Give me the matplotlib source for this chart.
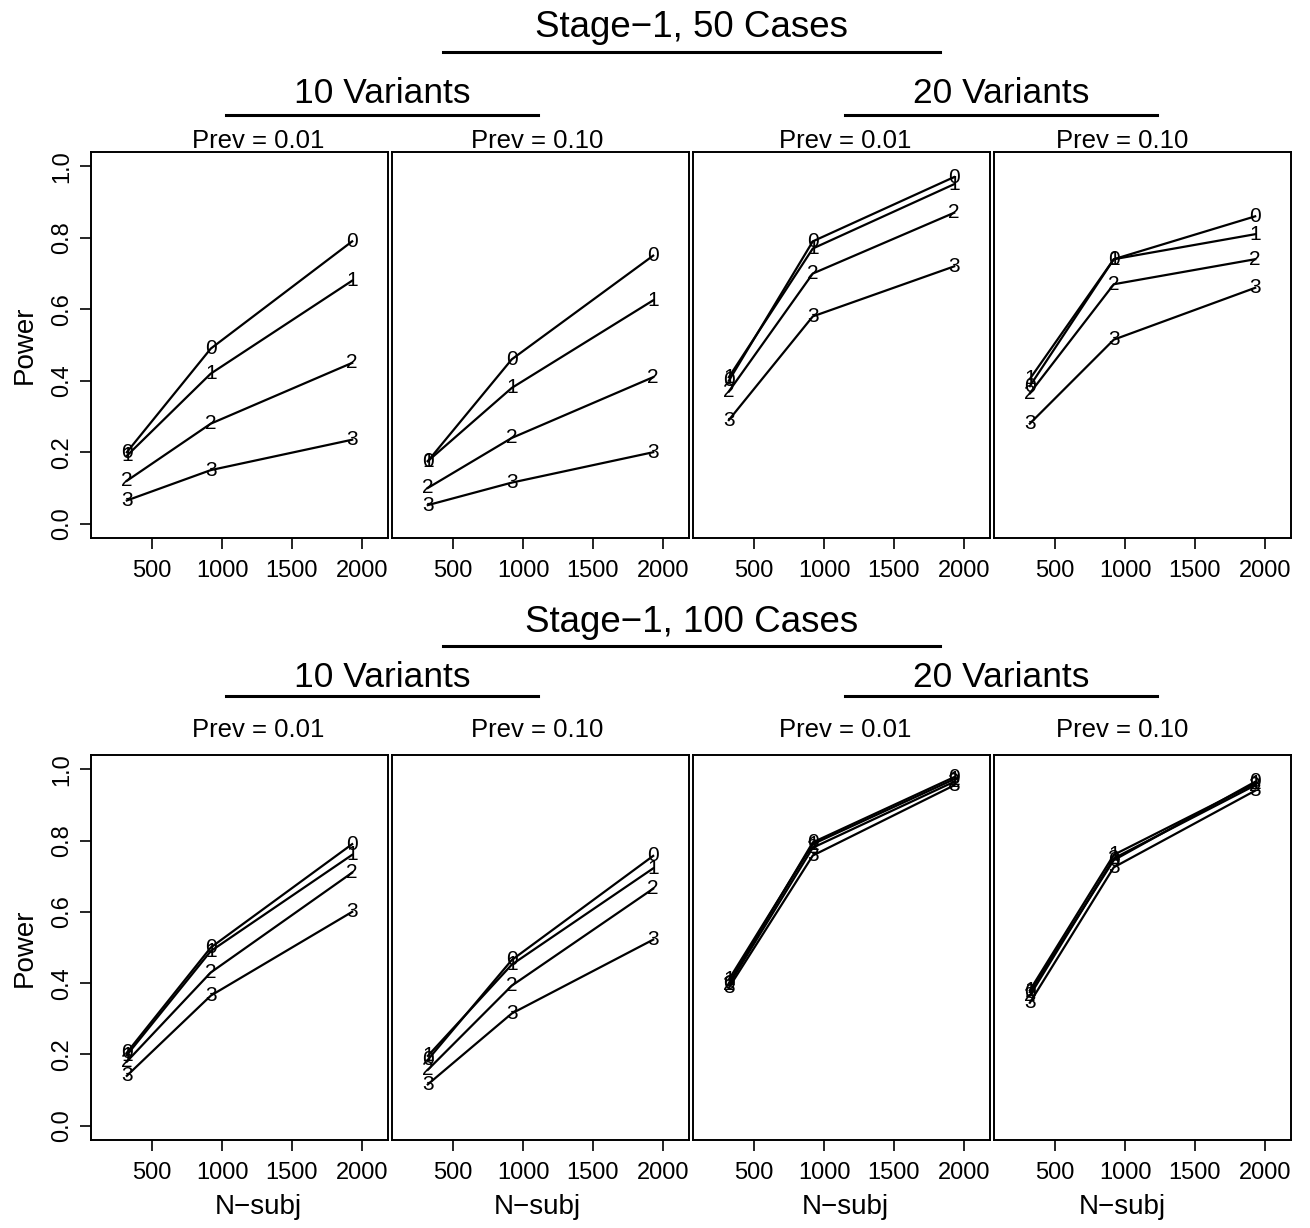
import matplotlib
matplotlib.use('Agg')
import matplotlib.pyplot as plt
from matplotlib.lines import Line2D

plt.rcParams['font.family'] = ['Liberation Sans', 'DejaVu Sans']

# figure size in pixels
W, H = 1310, 1228

# sample sizes on the x axis
nsubj = [320, 920, 1930]
curve_labels = ['0', '1', '2', '3']

# power, one row per curve (0..3), columns follow nsubj
# Stage-1, 50 cases
p50_v10_prev01 = [[0.20, 0.49, 0.79],
                  [0.19, 0.42, 0.68],
                  [0.12, 0.28, 0.45],
                  [0.065, 0.15, 0.235]]
p50_v10_prev10 = [[0.175, 0.46, 0.75],
                  [0.175, 0.38, 0.625],
                  [0.10, 0.24, 0.41],
                  [0.052, 0.115, 0.20]]
p50_v20_prev01 = [[0.40, 0.79, 0.97],
                  [0.41, 0.77, 0.95],
                  [0.37, 0.70, 0.87],
                  [0.29, 0.58, 0.72]]
p50_v20_prev10 = [[0.385, 0.74, 0.86],
                  [0.405, 0.74, 0.81],
                  [0.365, 0.67, 0.74],
                  [0.28, 0.515, 0.66]]
# Stage-1, 100 cases
p100_v10_prev01 = [[0.205, 0.50, 0.79],
                   [0.198, 0.49, 0.76],
                   [0.18, 0.43, 0.71],
                   [0.14, 0.365, 0.60]]
p100_v10_prev10 = [[0.185, 0.465, 0.757],
                   [0.196, 0.452, 0.722],
                   [0.157, 0.393, 0.665],
                   [0.116, 0.315, 0.522]]
p100_v20_prev01 = [[0.40, 0.795, 0.978],
                   [0.41, 0.79, 0.972],
                   [0.395, 0.78, 0.965],
                   [0.387, 0.758, 0.955]]
p100_v20_prev10 = [[0.375, 0.745, 0.965],
                   [0.38, 0.76, 0.96],
                   [0.365, 0.75, 0.955],
                   [0.345, 0.725, 0.94]]

prev_titles = ['Prev = 0.01', 'Prev = 0.10', 'Prev = 0.01', 'Prev = 0.10']
variant_titles = ['10 Variants', '20 Variants']
stage_titles = ['Stage\u22121, 50 Cases', 'Stage\u22121, 100 Cases']
xticks = [500, 1000, 1500, 2000]
yticks = [0.0, 0.2, 0.4, 0.6, 0.8, 1.0]


def fx(px):
  return px / W


def fy(py):
  return 1 - py / H


def hline(fig, x0, x1, y):
  fig.add_artist(Line2D([fx(x0), fx(x1)], [fy(y), fy(y)],
                        transform=fig.transFigure, color='black', lw=2.2))


def draw_panel(fig, left, top, bottom, data, show_y):
  ax = fig.add_axes([fx(left), fy(bottom), fx(297), (bottom - top) / H])
  for k, curve in enumerate(data):
    ax.plot(nsubj, curve, color='black', lw=1.6, zorder=2)
    for x, y in zip(nsubj, curve):
      ax.text(x, y, curve_labels[k], ha='center', va='center',
              fontsize=15, zorder=3)
  ax.set_xlim(64, 2186)
  ax.set_ylim(-0.04, 1.04)
  ax.set_xticks(xticks)
  ax.set_xticklabels([str(t) for t in xticks], fontsize=17)
  ax.tick_params(axis='x', length=8, width=1.2, pad=8)
  if show_y:
    ax.set_yticks(yticks)
    ax.set_yticklabels(['%.1f' % t for t in yticks], fontsize=17,
                       rotation=90, va='center')
    ax.tick_params(axis='y', length=8, width=1.2, pad=5)
  else:
    ax.set_yticks([])
  for s in ax.spines.values():
    s.set_linewidth(1.4)
  return ax


def main():
  fig = plt.figure(figsize=(W / 100, H / 100), dpi=100)

  lefts = [91, 392, 693, 994]
  title_cx = [258, 537, 845, 1122]
  rows = [
    dict(top=152, bottom=538, data=[p50_v10_prev01, p50_v10_prev10,
                                    p50_v20_prev01, p50_v20_prev10],
         stage_y=37, stage_line=52, var_y=103, var_line=115, prev_y=148),
    dict(top=755, bottom=1140, data=[p100_v10_prev01, p100_v10_prev10,
                                     p100_v20_prev01, p100_v20_prev10],
         stage_y=632, stage_line=646, var_y=687, var_line=696, prev_y=737),
  ]

  for r, row in enumerate(rows):
    for c in range(4):
      draw_panel(fig, lefts[c], row['top'], row['bottom'], row['data'][c],
                 show_y=(c == 0))
      fig.text(fx(title_cx[c]), fy(row['prev_y']), prev_titles[c],
               ha='center', va='baseline', fontsize=18.5)
      if r == 1:
        fig.text(fx(title_cx[c]), fy(1214), 'N\u2212subj',
                 ha='center', va='baseline', fontsize=20)

    fig.text(fx(25), fy((row['top'] + row['bottom']) / 2), 'Power',
             rotation=90, ha='center', va='center', fontsize=20)

    fig.text(fx(692), fy(row['stage_y']), stage_titles[r],
             ha='center', va='baseline', fontsize=26.5)
    hline(fig, 443, 940, row['stage_line'])

    fig.text(fx(382), fy(row['var_y']), variant_titles[0],
             ha='center', va='baseline', fontsize=25.5)
    hline(fig, 226, 538, row['var_line'])
    fig.text(fx(1001), fy(row['var_y']), variant_titles[1],
             ha='center', va='baseline', fontsize=25.5)
    hline(fig, 845, 1157, row['var_line'])

  fig.savefig('out.png', dpi=100, facecolor='white')


if __name__ == '__main__':
  main()
